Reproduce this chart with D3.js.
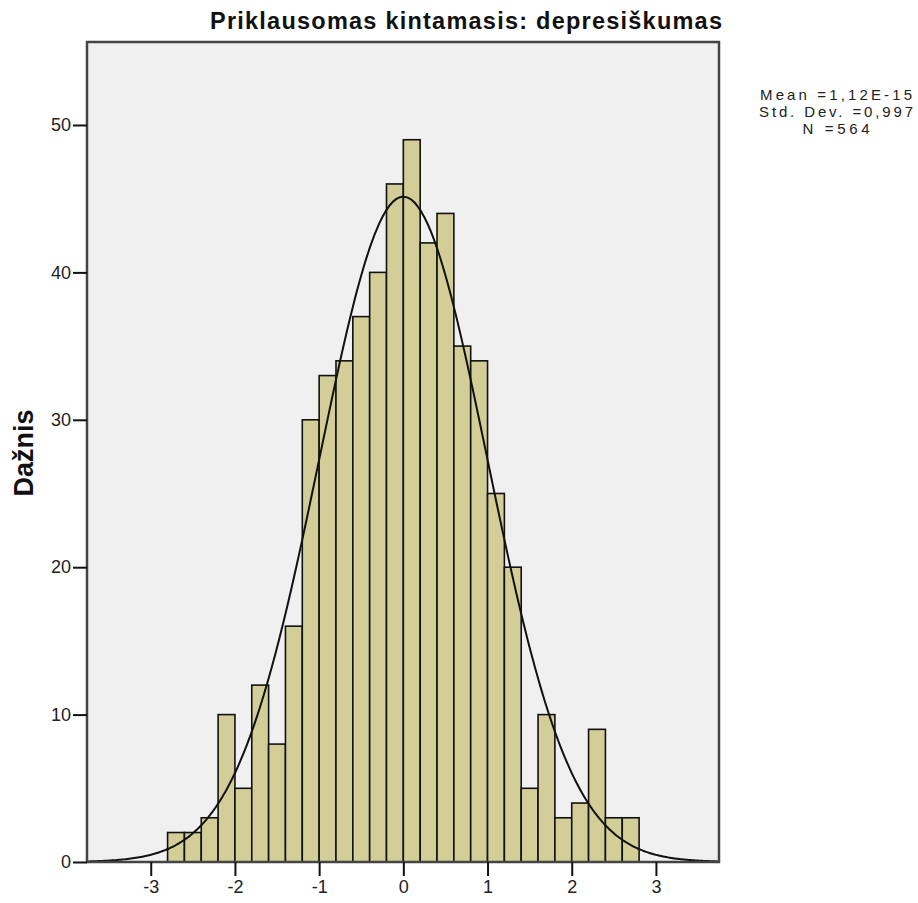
<!DOCTYPE html>
<html>
<head>
<meta charset="utf-8">
<script src="https://d3js.org/d3.v7.min.js"></script>
<style>
body { margin: 0; background: #fff; }
.tick text { font: 18px "Liberation Sans", Arial, sans-serif; fill: #222; }
.title { font: bold 23.5px "Liberation Sans", Arial, sans-serif; fill: #111; }
.ylabel { font: bold 27px "Liberation Sans", Arial, sans-serif; fill: #111; }
.stats { font: 15px "Liberation Sans", Arial, sans-serif; fill: #222; }
</style>
</head>
<body>
<script>

// bins of width 0.2 from -2.8 to 2.8
var binStarts = [-2.8, -2.6, -2.4, -2.2, -2.0, -1.8, -1.6, -1.4, -1.2, -1.0, -0.8, -0.6, -0.4, -0.2,
                 0.0, 0.2, 0.4, 0.6, 0.8, 1.0, 1.2, 1.4, 1.6, 1.8, 2.0, 2.2, 2.4, 2.6];
var counts = [2, 2, 3, 10, 5, 12, 8, 16, 30, 33, 34, 37, 40, 46,
              49, 42, 44, 35, 34, 25, 20, 5, 10, 3, 4, 9, 3, 3];
var binWidth = 0.2;

var xTicks = [-3, -2, -1, 0, 1, 2, 3];
var yTicks = [0, 10, 20, 30, 40, 50];

var statMean = 1.12e-15, statSd = 0.997, statN = 564;
var statLines = ["Mean =1,12E-15", "Std. Dev. =0,997", "N =564"];
var statWidths = [152, 154, 67];

var W = 918, H = 903;
var plot = {left: 87, right: 719, top: 42, bottom: 862};

var svg = d3.select("body").append("svg")
    .attr("width", W)
    .attr("height", H);

var x = d3.scaleLinear()
    .domain([-3.757, 3.749])
    .range([plot.left, plot.right]);

var y = d3.scaleLinear()
    .domain([0, 55.63])
    .range([plot.bottom, plot.top]);

// background
svg.append("rect")
    .attr("x", plot.left)
    .attr("y", plot.top)
    .attr("width", plot.right - plot.left)
    .attr("height", plot.bottom - plot.top)
    .style("fill", "#f0f0f0");

// bars
svg.selectAll(".bar")
    .data(binStarts)
  .enter().append("rect")
    .attr("class", "bar")
    .attr("x", function(d) { return x(d); })
    .attr("width", function(d) { return x(d + binWidth) - x(d); })
    .attr("y", function(d, i) { return y(counts[i]); })
    .attr("height", function(d, i) { return y(0) - y(counts[i]); })
    .style("fill", "#d3ce97")
    .style("stroke", "#111")
    .style("stroke-width", 1.6);

// normal curve
var curveX = d3.range(-3.757, 3.75, 0.02);
var scaleN = statN * binWidth / (statSd * Math.sqrt(2 * Math.PI));
var line = d3.line()
    .x(function(d) { return x(d); })
    .y(function(d) { var z = (d - statMean) / statSd; return y(scaleN * Math.exp(-0.5 * z * z)); })
    .curve(d3.curveBasis);

svg.append("path")
    .datum(curveX)
    .attr("d", line)
    .style("fill", "none")
    .style("stroke", "#111")
    .style("stroke-width", 2);

// frame
svg.append("rect")
    .attr("x", plot.left)
    .attr("y", plot.top)
    .attr("width", plot.right - plot.left)
    .attr("height", plot.bottom - plot.top)
    .style("fill", "none")
    .style("stroke", "#444")
    .style("stroke-width", 2.5);

// axes
var fmt = function(d) { return String(d); };
var xAxis = d3.axisBottom(x).tickValues(xTicks).tickFormat(fmt).tickSize(14).tickSizeOuter(0).tickPadding(4);
var yAxis = d3.axisLeft(y).tickValues(yTicks).tickFormat(fmt).tickSize(14).tickSizeOuter(0).tickPadding(2);

var gx = svg.append("g")
    .attr("transform", "translate(0," + plot.bottom + ")")
    .call(xAxis);
gx.select(".domain").remove();
gx.selectAll(".tick line").style("stroke", "#111").style("stroke-width", 2);

var gy = svg.append("g")
    .attr("transform", "translate(" + plot.left + ",0)")
    .call(yAxis);
gy.select(".domain").remove();
gy.selectAll(".tick line").style("stroke", "#111").style("stroke-width", 2);

// title
svg.append("text")
    .attr("class", "title")
    .attr("x", 210)
    .attr("y", 29)
    .attr("textLength", 512)
    .attr("lengthAdjust", "spacing")
    .text("Priklausomas kintamasis: depresiškumas");

// y label
svg.append("text")
    .attr("class", "ylabel")
    .attr("transform", "translate(33,453) rotate(-90)")
    .attr("text-anchor", "middle")
    .text("Dažnis");

// stats box
svg.selectAll(".stats")
    .data(statLines)
  .enter().append("text")
    .attr("class", "stats")
    .attr("x", function(d, i) { return 836 - statWidths[i] / 2; })
    .attr("y", function(d, i) { return 100 + i * 17; })
    .attr("textLength", function(d, i) { return statWidths[i]; })
    .attr("lengthAdjust", "spacing")
    .text(function(d) { return d; });

</script>
</body>
</html>
